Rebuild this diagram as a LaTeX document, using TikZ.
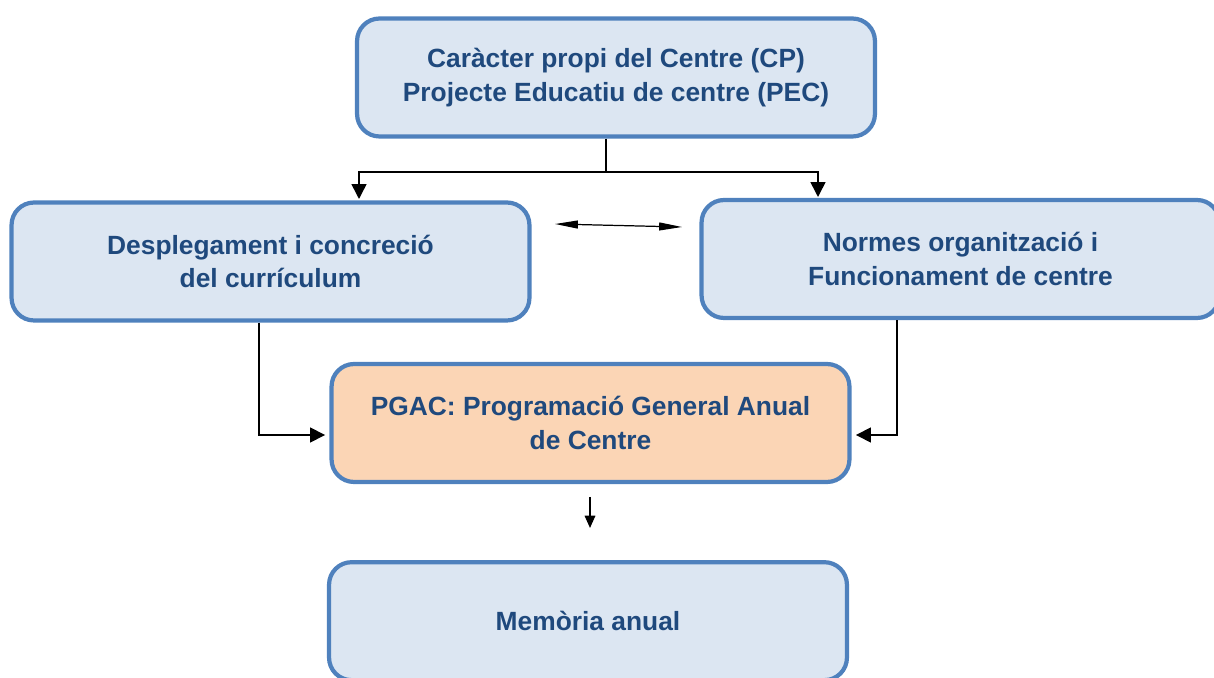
\documentclass[tikz,border=0pt]{standalone}
\usepackage{fontspec}
\setmainfont{Liberation Sans}
\usetikzlibrary{positioning}
\usetikzlibrary{calc}
\usetikzlibrary{arrows.meta}
\definecolor{vora}{HTML}{4F81BD}
\definecolor{blaucel}{HTML}{DCE6F2}
\definecolor{preseg}{HTML}{FBD5B5}
\definecolor{lletra}{HTML}{1F497D}
\tikzset{
    caixa/.style={draw=vora, fill=blaucel, line width=2.4pt, rounded corners=0.45cm,
        minimum width=10.36cm, minimum height=2.36cm, align=center, text=lletra,
        font=\fontsize{15}{19}\selectfont\bfseries},
    fletxa/.style={-{Triangle[length=8.5pt,width=8.5pt]}, line width=0.9pt},
}

\begin{document}
\begin{tikzpicture}[x=0.02cm, y=-0.02cm]
        \useasboundingbox (0,0) rectangle (1214,678);

        \node[caixa] (caracter) at (616,77.5) {Caràcter propi del Centre (CP)\\Projecte Educatiu de centre (PEC)};
        \node[caixa] (desplegament) at (270.5,261.5) {Desplegament i concreció\\del currículum};
        \node[caixa] (normes) at (960.5,259) {Normes organització i\\Funcionament de centre};
        \node[caixa, fill=preseg] (pgac) at (590.5,423) {PGAC: Programació General Anual\\de Centre};
        \node[caixa, below = 1.52cm of pgac, xshift=-0.05cm] (memoria) {Memòria anual};

        \coordinate (tronc) at (606,172);
        \coordinate (fletxaE) at (359,199);
        \coordinate (fletxaD) at (818,197);
        \draw[line width=0.9pt] (caracter.south -| tronc) -- (tronc);
        \draw[fletxa] (tronc) -| (fletxaE);
        \draw[fletxa] (tronc) -| (fletxaD);

        \coordinate (mutuaE) at (555,224);
        \coordinate (mutuaD) at (682,227);
        \draw[{Triangle[length=13pt,width=4.5pt]}-{Triangle[length=13pt,width=4.5pt]}, line width=0.7pt] (mutuaE) -- (mutuaD);

        \coordinate (colzeE) at (259,435);
        \coordinate (colzeD) at (897,435);
        \draw[fletxa, shorten >=2.5pt] (desplegament.south -| colzeE) -- (colzeE) -- (colzeE -| pgac.west);
        \draw[fletxa, shorten >=2.5pt] (normes.south -| colzeD) -- (colzeD) -- (colzeD -| pgac.east);

        \coordinate (baixA) at (590,497);
        \coordinate (baixB) at (590,528);
        \draw[-{Triangle[length=7pt,width=6pt]}, line width=0.9pt] (baixA) -- (baixB);
    \end{tikzpicture}
\end{document}
